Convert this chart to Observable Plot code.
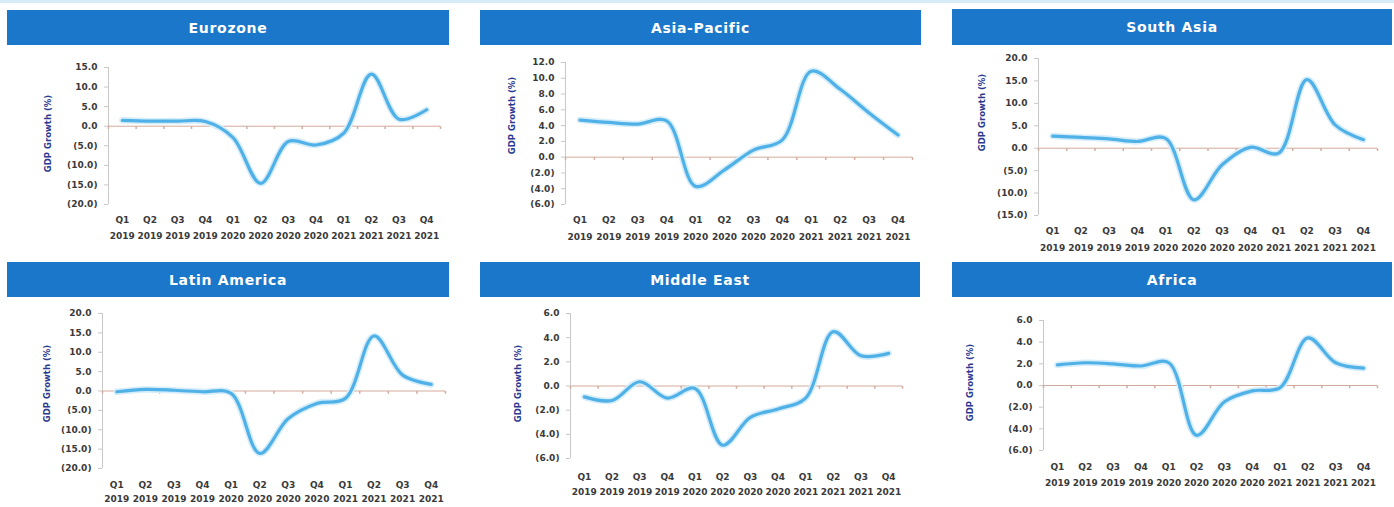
<!DOCTYPE html>
<html><head><meta charset="utf-8">
<script src="https://cdn.jsdelivr.net/npm/d3@7"></script>
<script src="https://cdn.jsdelivr.net/npm/@observablehq/plot@0.6"></script>
<style>
html,body{margin:0;padding:0;background:#fff;}
#page{position:relative;width:1394px;height:507px;overflow:hidden;background:#fff;font-family:"DejaVu Sans",sans-serif;}
.topline{position:absolute;left:0;top:0;width:1394px;height:3px;background:#d6ebf8;}
.hdr{position:absolute;background:#1a77c9;color:#fff;font-weight:bold;font-size:14px;display:flex;align-items:center;justify-content:center;letter-spacing:0.7px;font-family:"DejaVu Sans",sans-serif;}
.chart{position:absolute;}
</style></head><body><div id="page"><div class="topline"></div></div>
<script>
// ---- data ----
const regions = ["Eurozone", "Asia-Pacific", "South Asia", "Latin America", "Middle East", "Africa"];
const quarters = ["Q1","Q2","Q3","Q4","Q1","Q2","Q3","Q4","Q1","Q2","Q3","Q4"];
const years = ["2019","2019","2019","2019","2020","2020","2020","2020","2021","2021","2021","2021"];
const yTitle = "GDP Growth (%)";

const eurozone     = [1.5, 1.3, 1.3, 1.2, -2.9, -14.6, -3.9, -4.8, -1.8, 13.3, 1.8, 4.2];
const asiaPacific  = [4.7, 4.4, 4.2, 4.6, -3.7, -1.6, 0.9, 2.2, 10.9, 8.6, 5.6, 2.8];
const southAsia    = [2.7, 2.4, 2.1, 1.5, 2.2, -11.5, -3.7, 0.2, -1.1, 15.3, 5.2, 1.9];
const latinAmerica = [-0.2, 0.4, 0.2, -0.2, -0.6, -16.1, -7.1, -3.2, -1.9, 14.2, 4.1, 1.7];
const middleEast   = [-0.9, -1.2, 0.35, -1.0, -0.2, -4.9, -2.6, -1.9, -1.0, 4.5, 2.5, 2.7];
const africa       = [1.9, 2.1, 2.0, 1.8, 2.1, -4.6, -1.5, -0.5, -0.2, 4.4, 2.1, 1.6];

const eurozoneTicks     = [-20, -15, -10, -5, 0, 5, 10, 15];
const asiaPacificTicks  = [-6, -4, -2, 0, 2, 4, 6, 8, 10, 12];
const southAsiaTicks    = [-15, -10, -5, 0, 5, 10, 15, 20];
const latinAmericaTicks = [-20, -15, -10, -5, 0, 5, 10, 15, 20];
const middleEastTicks   = [-6, -4, -2, 0, 2, 4, 6];
const africaTicks       = [-6, -4, -2, 0, 2, 4, 6];

const seriesList = [eurozone, asiaPacific, southAsia, latinAmerica, middleEast, africa];
const tickList = [eurozoneTicks, asiaPacificTicks, southAsiaTicks, latinAmericaTicks, middleEastTicks, africaTicks];

// ---- layout (pixel geometry of each panel) ----
const layout = [
  {hx:7,   hy:10,  hw:442, hh:35, ax0:108,  ax1:440,  yTop:67,  yBot:204, qY:220, yrY:236, labelX:48,  labelY:133},
  {hx:480, hy:10,  hw:441, hh:35, ax0:565,  ax1:912,  yTop:62,  yBot:204, qY:220, yrY:237, labelX:512, labelY:115},
  {hx:952, hy:9,   hw:440, hh:36, ax0:1038, ax1:1377, yTop:58,  yBot:215, qY:231, yrY:248, labelX:982, labelY:112},
  {hx:7,   hy:262, hw:442, hh:35, ax0:102,  ax1:445,  yTop:313, yBot:468, qY:485, yrY:499, labelX:47,  labelY:383},
  {hx:480, hy:262, hw:440, hh:35, ax0:570,  ax1:902,  yTop:313, yBot:458, qY:477, yrY:492, labelX:518, labelY:383},
  {hx:952, hy:262, hw:440, hh:35, ax0:1043, ax1:1377, yTop:320, yBot:450, qY:467, yrY:483, labelX:970, labelY:382}
];

const page = document.getElementById("page");
const vtick = {draw(ctx, size) { const h = Math.sqrt(size) / 1.3; ctx.moveTo(0, 0); ctx.lineTo(0, h); }};
const fmt = v => v < 0 ? `(${(-v).toFixed(1)})` : v.toFixed(1);

regions.forEach((name, p) => {
  const L = layout[p];
  const values = seriesList[p];
  const ticks = tickList[p];

  const h = document.createElement("div");
  h.className = "hdr";
  Object.assign(h.style, {left: L.hx + "px", top: L.hy + "px", width: L.hw + "px", height: L.hh + "px"});
  h.textContent = name;
  page.appendChild(h);

  const svgL = L.ax0 - 100, svgT = L.yTop - 12;
  const width = L.ax1 + 8 - svgL, height = L.yrY + 10 - svgT;
  const idx = d3.range(values.length);
  const data = idx.map(i => ({i, v: values[i]}));
  const xDom = [-0.5, values.length - 0.5];
  const bounds = d3.range(values.length + 1).map(k => k - 0.5);

  const chart = Plot.plot({
    width, height,
    marginLeft: L.ax0 - svgL, marginRight: svgL + width - L.ax1,
    marginTop: L.yTop - svgT, marginBottom: svgT + height - L.yBot,
    x: {type: "linear", domain: xDom, axis: null, label: null},
    y: {domain: [ticks[0], ticks[ticks.length - 1]], axis: null, label: null},
    style: {fontFamily: "DejaVu Sans", fontSize: "9px", fontWeight: "bold", background: "transparent", overflow: "visible"},
    marks: [
      Plot.ruleX([xDom[0]], {stroke: "#c8c8c8"}),
      Plot.axisY({ticks, tickSize: 4, tickFormat: () => "", color: "#c8c8c8", label: null}),
      Plot.axisY({ticks, tickSize: 0, tickPadding: 11, tickFormat: fmt, color: "#3a3a3a", label: null}),
      Plot.ruleY([0], {stroke: "#d3ab9c", strokeWidth: 1}),
      Plot.dot(bounds, {x: d => d, y: () => 0, symbol: vtick, r: 2, stroke: "#d3ab9c", fill: "none"}),
      Plot.line(data, {x: "i", y: "v", curve: "catmull-rom", stroke: "#d6edfa", strokeWidth: 6.5}),
      Plot.line(data, {x: "i", y: "v", curve: "catmull-rom", stroke: "#4fb1e7", strokeWidth: 3.2}),
      Plot.axisX({ticks: idx, tickSize: 0, tickPadding: L.qY - L.yBot - 4, tickFormat: i => quarters[i], color: "#3a3a3a", label: null}),
      Plot.axisX({ticks: idx, tickSize: 0, tickPadding: L.yrY - L.yBot - 4, tickFormat: i => years[i], color: "#3a3a3a", label: null}),
      Plot.text([yTitle], {frameAnchor: "left", textAnchor: "middle", rotate: -90, dx: L.labelX - L.ax0, dy: L.labelY - (L.yTop + L.yBot) / 2, fill: "#2b3990", fontSize: 8.5, fontWeight: "bold"})
    ]
  });
  chart.classList.add("chart");
  chart.style.left = svgL + "px";
  chart.style.top = svgT + "px";
  page.appendChild(chart);
});
</script>
</body></html>
